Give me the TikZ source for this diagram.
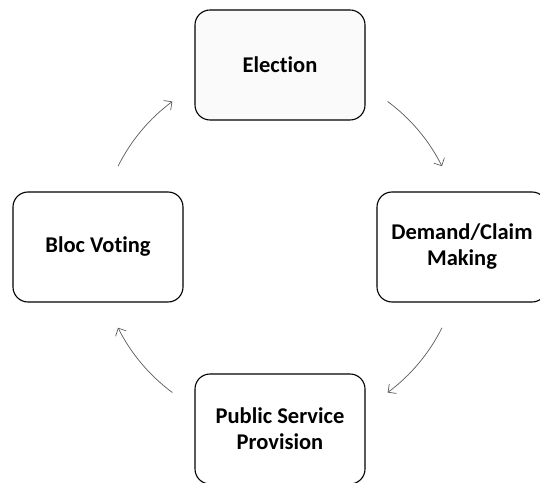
\documentclass[tikz,border=0pt]{standalone}
\usepackage{fontspec}
\setmainfont{Carlito}[Ligatures=NoCommon]
\usetikzlibrary{arrows.meta,calc}
\tikzset{
	loopBox/.style={
		draw,
		rounded corners=15pt,
		align=center,
		minimum width=170pt,
		minimum height=110pt,
		line width=1.1pt,
		font=\fontsize{22.5}{26}\selectfont\bfseries
	},
	loopStart/.style={loopBox, fill=gray!4},
	loopFlow/.style={-{Straight Barb[length=6pt,width=12pt]}, line width=0.7pt, draw=black!65}
}

\begin{document}
\begin{tikzpicture}[x=1pt,y=1pt]

	\useasboundingbox (0,0) rectangle (540,482);

	% Centre of the cycle
	\coordinate (hub) at (280,235);

	% Stages
	\node[loopStart] (election) at (280,417) {Election};
	\node[loopBox] (demand) at (462,235) {Demand/Claim\\Making};
	\node[loopBox] (service) at (280,53) {Public Service\\Provision};
	\node[loopBox] (bloc) at (98,235) {Bloc Voting};

	% Ends of the arcs between stages
	\coordinate (fromElection) at ($(hub)+(53.5:181)$);
	\coordinate (fromDemand) at ($(hub)+(-26.5:181)$);
	\coordinate (fromService) at ($(hub)+(-126.5:181)$);
	\coordinate (fromBloc) at ($(hub)+(153.5:181)$);

	% Flows
	\draw[loopFlow] (fromElection) arc[start angle=53.5, end angle=26.5, radius=181];
	\draw[loopFlow] (fromDemand) arc[start angle=-26.5, end angle=-53.5, radius=181];
	\draw[loopFlow] (fromService) arc[start angle=-126.5, end angle=-153.5, radius=181];
	\draw[loopFlow] (fromBloc) arc[start angle=153.5, end angle=126.5, radius=181];

\end{tikzpicture}
\end{document}
